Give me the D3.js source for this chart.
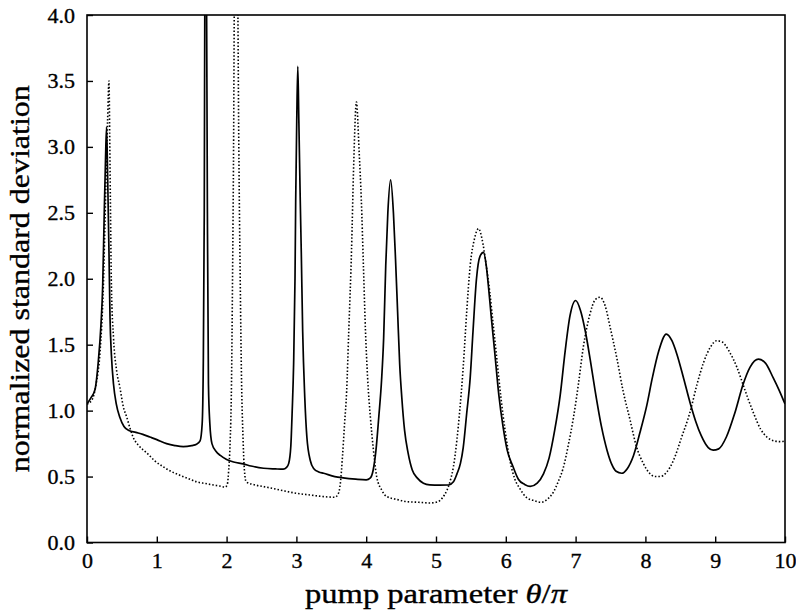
<!DOCTYPE html>
<html lang="en">
<head>
    <meta charset="UTF-8">
    <title>Normalized standard deviation vs pump parameter</title>
    <script src="https://cdnjs.cloudflare.com/ajax/libs/d3/7.8.5/d3.min.js"></script>
    <style>
        body {
            margin: 0;
            background: #fff;
            overflow: hidden;
        }
        svg text {
            font-family: "Liberation Serif", "DejaVu Serif", serif;
            fill: #000;
            stroke: #000;
            stroke-width: 0.35px;
        }
    </style>
</head>
<body>
    <script>
        // x = theta / pi, y = normalized standard deviation
        const solidX = [0, 0.06, 0.115, 0.16, 0.2, 0.225, 0.245, 0.265, 0.28, 0.295, 0.315, 0.33, 0.35, 0.38, 0.42, 0.47, 0.53, 0.6, 0.7, 0.8, 0.9, 1.0, 1.14, 1.26, 1.38, 1.5, 1.57, 1.62, 1.65, 1.665, 1.68, 1.69, 1.7, 1.71, 1.725, 1.74, 1.76, 1.79, 1.85, 1.91, 2.0, 2.1, 2.24, 2.35, 2.53, 2.7, 2.81, 2.86, 2.89, 2.92, 2.94, 2.96, 2.98, 2.99, 3.005, 3.02, 3.035, 3.055, 3.07, 3.09, 3.12, 3.15, 3.2, 3.25, 3.32, 3.39, 3.55, 3.67, 3.85, 4.0, 4.06, 4.1, 4.14, 4.18, 4.22, 4.25, 4.28, 4.31, 4.35, 4.39, 4.42, 4.45, 4.48, 4.51, 4.55, 4.6, 4.66, 4.73, 4.82, 4.91, 5.05, 5.18, 5.25, 5.3, 5.35, 5.39, 5.44, 5.49, 5.53, 5.58, 5.63, 5.68, 5.72, 5.75, 5.79, 5.84, 5.9, 5.96, 6.02, 6.1, 6.18, 6.27, 6.35, 6.45, 6.54, 6.62, 6.7, 6.78, 6.85, 6.92, 7.0, 7.07, 7.14, 7.21, 7.28, 7.37, 7.45, 7.52, 7.58, 7.66, 7.74, 7.83, 7.92, 8.02, 8.1, 8.19, 8.3, 8.38, 8.45, 8.55, 8.64, 8.72, 8.8, 8.9, 8.97, 9.05, 9.16, 9.28, 9.4, 9.5, 9.62, 9.72, 9.83, 9.92, 10];
        const solidY = [1.05, 1.1, 1.16, 1.36, 1.65, 1.95, 2.45, 2.9, 3.15, 2.8, 2.2, 1.7, 1.42, 1.2, 1.05, 0.95, 0.88, 0.85, 0.835, 0.82, 0.8, 0.78, 0.75, 0.735, 0.727, 0.735, 0.745, 0.77, 0.9, 1.3, 2.5, 4.5, 5, 4.5, 2.5, 1.2, 0.9, 0.75, 0.69, 0.66, 0.63, 0.61, 0.596, 0.58, 0.563, 0.558, 0.556, 0.57, 0.6, 0.73, 1.0, 1.35, 2.0, 2.6, 3.2, 3.61, 3.2, 2.6, 2.2, 1.6, 1.1, 0.8, 0.62, 0.56, 0.535, 0.525, 0.5, 0.49, 0.48, 0.475, 0.49, 0.55, 0.7, 0.95, 1.23, 1.55, 2.1, 2.5, 2.75, 2.5, 2.15, 1.75, 1.35, 1.1, 0.85, 0.68, 0.55, 0.49, 0.45, 0.437, 0.435, 0.436, 0.46, 0.52, 0.6, 0.72, 0.98, 1.25, 1.6, 2.0, 2.17, 2.2, 2.1, 1.95, 1.72, 1.45, 1.12, 0.88, 0.7, 0.58, 0.48, 0.44, 0.425, 0.45, 0.52, 0.64, 0.85, 1.12, 1.45, 1.72, 1.835, 1.76, 1.6, 1.385, 1.15, 0.88, 0.7, 0.59, 0.54, 0.525, 0.56, 0.66, 0.83, 1.04, 1.25, 1.45, 1.58, 1.53, 1.43, 1.24, 1.06, 0.92, 0.81, 0.72, 0.7, 0.71, 0.8, 0.98, 1.2, 1.33, 1.39, 1.36, 1.25, 1.15, 1.05];

        const dottedX = [0, 0.07, 0.13, 0.186, 0.234, 0.27, 0.295, 0.315, 0.325, 0.335, 0.35, 0.38, 0.425, 0.47, 0.52, 0.57, 0.62, 0.66, 0.75, 0.855, 0.97, 1.09, 1.2, 1.33, 1.45, 1.57, 1.7, 1.81, 1.9, 1.98, 2.01, 2.03, 2.05, 2.07, 2.085, 2.1, 2.115, 2.135, 2.155, 2.175, 2.195, 2.215, 2.235, 2.255, 2.28, 2.38, 2.53, 2.75, 3.0, 3.2, 3.39, 3.55, 3.6, 3.63, 3.66, 3.69, 3.72, 3.75, 3.79, 3.82, 3.86, 3.9, 3.93, 3.96, 3.99, 4.02, 4.06, 4.1, 4.15, 4.22, 4.29, 4.45, 4.58, 4.75, 4.91, 5.0, 5.06, 5.12, 5.16, 5.21, 5.25, 5.3, 5.34, 5.39, 5.44, 5.49, 5.55, 5.61, 5.66, 5.72, 5.77, 5.82, 5.87, 5.93, 5.99, 6.06, 6.13, 6.2, 6.3, 6.39, 6.51, 6.6, 6.68, 6.75, 6.82, 6.9, 6.97, 7.04, 7.11, 7.2, 7.28, 7.35, 7.42, 7.5, 7.59, 7.68, 7.78, 7.87, 7.97, 8.06, 8.14, 8.21, 8.3, 8.4, 8.52, 8.64, 8.74, 8.83, 8.93, 9.02, 9.1, 9.2, 9.31, 9.43, 9.55, 9.65, 9.74, 9.85, 9.93, 10];
        const dottedY = [1.05, 1.08, 1.2, 1.44, 1.94, 2.7, 3.2, 3.5, 3.1, 2.6, 1.94, 1.55, 1.3, 1.18, 1.03, 0.95, 0.86, 0.8, 0.73, 0.68, 0.62, 0.575, 0.54, 0.51, 0.485, 0.46, 0.447, 0.436, 0.428, 0.42, 0.44, 0.55, 0.75, 1.2, 2.0, 3.0, 4.5, 5, 4.5, 3.0, 2.0, 1.2, 0.8, 0.55, 0.46, 0.44, 0.424, 0.4, 0.373, 0.36, 0.348, 0.343, 0.37, 0.45, 0.65, 0.9, 1.15, 1.6, 2.22, 2.85, 3.34, 2.95, 2.6, 2.1, 1.6, 1.25, 0.95, 0.72, 0.5, 0.4, 0.35, 0.325, 0.31, 0.305, 0.3, 0.305, 0.32, 0.36, 0.4, 0.48, 0.575, 0.78, 1.0, 1.33, 1.75, 2.1, 2.3, 2.38, 2.3, 2.1, 1.9, 1.65, 1.4, 1.1, 0.85, 0.62, 0.48, 0.41, 0.34, 0.32, 0.305, 0.33, 0.38, 0.46, 0.56, 0.75, 0.95, 1.2, 1.48, 1.72, 1.84, 1.86, 1.8, 1.62, 1.4, 1.15, 0.93, 0.73, 0.6, 0.525, 0.5, 0.5, 0.53, 0.62, 0.8, 0.99, 1.2, 1.36, 1.48, 1.53, 1.52, 1.45, 1.33, 1.15, 0.98, 0.86, 0.8, 0.77, 0.765, 0.77];

        const xTicks = [0, 1, 2, 3, 4, 5, 6, 7, 8, 9, 10];
        const yTicks = [0, 0.5, 1, 1.5, 2, 2.5, 3, 3.5, 4];

        const width = 796;
        const height = 614;
        const margin = { top: 15, right: 11, bottom: 71.5, left: 87 };
        const plotW = width - margin.left - margin.right;
        const plotH = height - margin.top - margin.bottom;

        const svg = d3.select('body')
            .append('svg')
            .attr('width', width)
            .attr('height', height);

        const g = svg.append('g')
            .attr('transform', `translate(${margin.left},${margin.top})`);

        const x = d3.scaleLinear().domain([0, 10]).range([0, plotW]);
        const y = d3.scaleLinear().domain([0, 4]).range([plotH, 0]);

        // clip so the tall spikes stop at the top frame
        svg.append('defs').append('clipPath')
            .attr('id', 'plot-clip')
            .append('rect')
            .attr('width', plotW)
            .attr('height', plotH);

        const line = d3.line()
            .x(d => x(d[0]))
            .y(d => y(d[1]))
            .curve(d3.curveMonotoneX);

        const solid = solidX.map((v, i) => [v, solidY[i]]);
        const dotted = dottedX.map((v, i) => [v, dottedY[i]]);

        const curves = g.append('g').attr('clip-path', 'url(#plot-clip)');

        curves.append('path')
            .datum(dotted)
            .attr('fill', 'none')
            .attr('stroke', '#000')
            .attr('stroke-width', 1.6)
            .attr('stroke-dasharray', '1.5,2')
            .attr('d', line);

        curves.append('path')
            .datum(solid)
            .attr('fill', 'none')
            .attr('stroke', '#000')
            .attr('stroke-width', 1.7)
            .attr('stroke-linejoin', 'round')
            .attr('d', line);

        // axes, ticks pointing inward
        const xAxis = g.append('g')
            .attr('transform', `translate(0,${plotH})`)
            .call(d3.axisBottom(x)
                .tickValues(xTicks)
                .tickFormat(d3.format('d'))
                .tickSizeInner(-6)
                .tickSizeOuter(0)
                .tickPadding(10));

        const yAxis = g.append('g')
            .call(d3.axisLeft(y)
                .tickValues(yTicks)
                .tickFormat(d3.format('.1f'))
                .tickSizeInner(-6)
                .tickSizeOuter(0)
                .tickPadding(12));

        [xAxis, yAxis].forEach(a => {
            a.select('.domain').remove();
            a.selectAll('line').attr('stroke', '#000').attr('stroke-width', 1.4);
            a.selectAll('text')
                .attr('font-size', 22)
                .attr('fill', '#000');
        });

        // frame
        g.append('rect')
            .attr('width', plotW)
            .attr('height', plotH)
            .attr('fill', 'none')
            .attr('stroke', '#000')
            .attr('stroke-width', 1.6);

        // axis titles
        const xLabel = svg.append('text')
            .attr('x', margin.left + plotW / 2)
            .attr('y', 603)
            .attr('text-anchor', 'middle')
            .attr('font-size', 28)
            .attr('textLength', 262)
            .attr('lengthAdjust', 'spacingAndGlyphs');
        xLabel.append('tspan').text('pump parameter ');
        xLabel.append('tspan').attr('font-style', 'italic').text('θ');
        xLabel.append('tspan').text('/');
        xLabel.append('tspan').attr('font-style', 'italic').text('π');

        svg.append('text')
            .attr('transform', `translate(29,${margin.top + plotH / 2}) rotate(-90)`)
            .attr('text-anchor', 'middle')
            .attr('font-size', 28)
            .attr('textLength', 387)
            .attr('lengthAdjust', 'spacingAndGlyphs')
            .text('normalized standard deviation');
    </script>
</body>
</html>
